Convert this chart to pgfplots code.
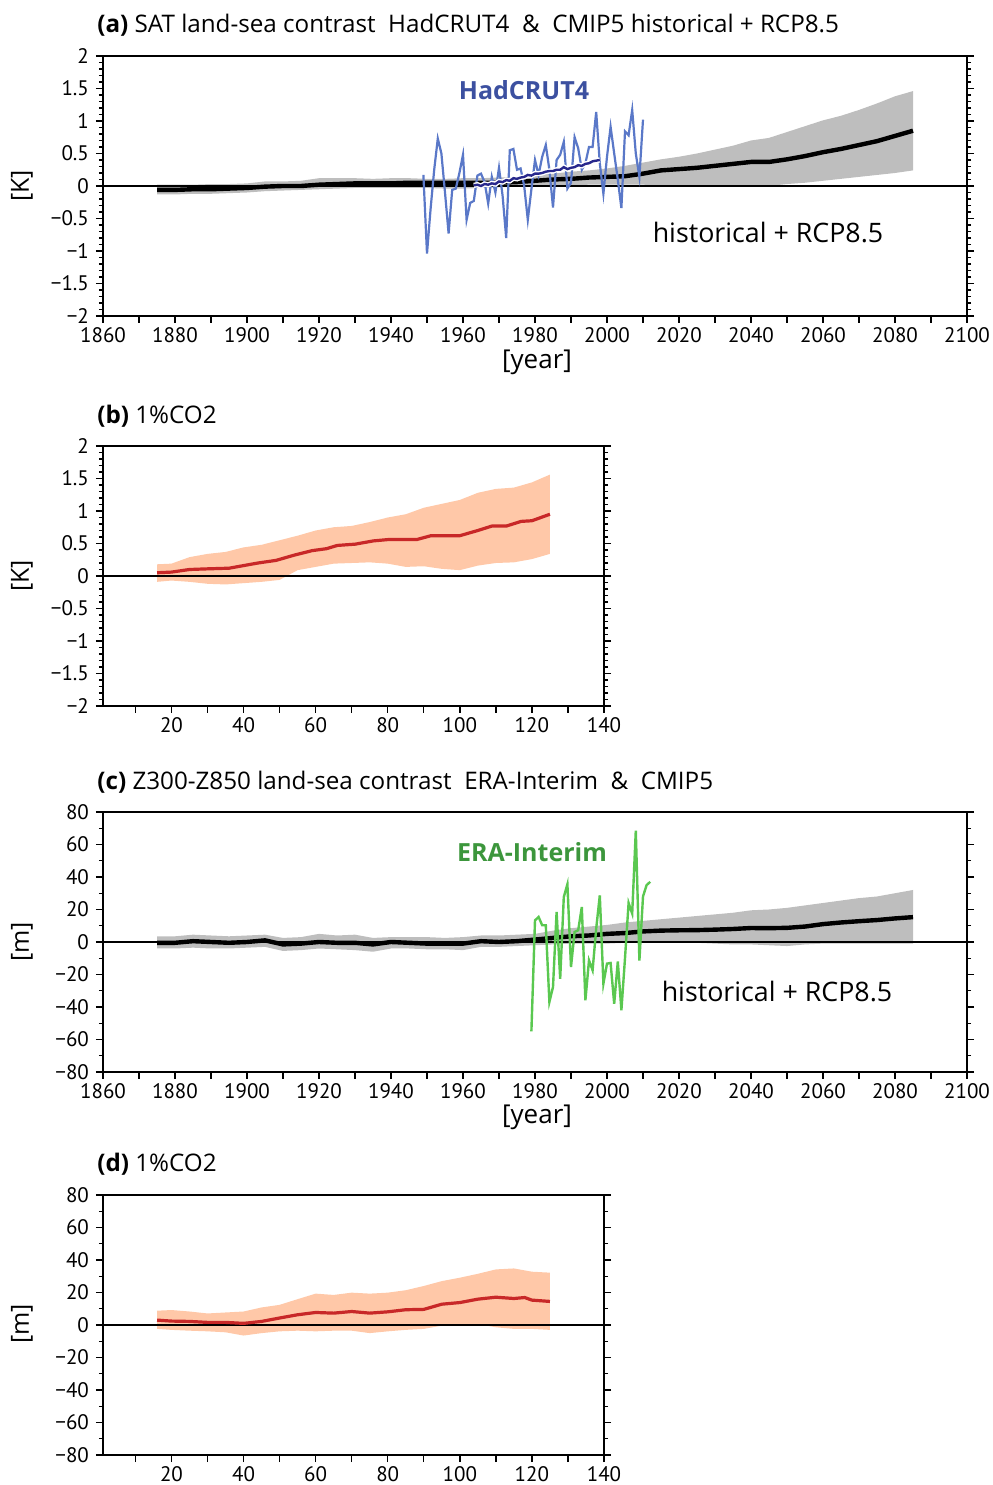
\documentclass[border=0pt]{standalone}
\usepackage{fontspec}
\setmainfont{Open Sans}
\newfontfamily\tickfont{PT Sans}
\usepackage{pgfplots}
\pgfplotsset{compat=1.18}
\definecolor{bandgray}{RGB}{190,190,190}
\definecolor{bandorange}{RGB}{255,200,168}
\definecolor{meanred}{RGB}{200,40,40}
\definecolor{hadblue}{RGB}{90,120,200}
\definecolor{hadlabel}{RGB}{60,80,160}
\definecolor{hadnavy}{RGB}{40,40,140}
\definecolor{eragreen}{RGB}{90,200,80}
\definecolor{eralabel}{RGB}{60,150,60}
\pgfplotsset{
  myaxis/.style={scale only axis, axis line style={line width=1pt},
    tick align=outside, xtick pos=left, ytick pos=both,
    major tick length=3.5pt, minor tick length=2pt,
    every tick/.style={black,line width=0.7pt},
    tick label style={font=\tickfont\fontsize{10.5}{12}\selectfont},
    xticklabel style={yshift=1.2pt},
    axis on top},
  yearaxis/.style={myaxis, width=432pt, height=130pt, xmin=1860, xmax=2100,
    xtick={1860,1870,...,2100},
    xticklabels={1860,,1880,,1900,,1920,,1940,,1960,,1980,,2000,,2020,,2040,,2060,,2080,,2100}},
  co2axis/.style={myaxis, width=250.5pt, height=130pt, xmin=1, xmax=140,
    xtick={10,20,...,140},
    xticklabels={,20,,40,,60,,80,,100,,120,,140}},
  Kaxis/.style={ymin=-2, ymax=2, ytick={-2,-1.5,...,2}, minor y tick num=4,
    yticklabels={−2,−1.5,−1,−0.5,0,0.5,1,1.5,2}},
  maxis/.style={ymin=-80, ymax=80, ytick={-80,-60,...,80}, minor y tick num=1,
    yticklabels={−80,−60,−40,−20,0,20,40,60,80}},
}
\begin{document}
\begin{tikzpicture}
\useasboundingbox (0,0) rectangle (496pt,742.5pt);
% ---------------- (a)
\begin{axis}[yearaxis, Kaxis, at={(51.5pt,584.5pt)}, anchor=south west]
\addplot[fill=bandgray, draw=none] coordinates {
(1875,0.02)(1880,0.02)(1885,0.02)(1890,0.03)(1895,0.03)(1900,0.04)(1905,0.07)(1910,0.07)(1915,0.08)(1920,0.12)(1925,0.12)(1930,0.12)(1935,0.11)(1940,0.12)(1945,0.12)(1950,0.11)(1955,0.11)(1960,0.12)(1965,0.12)(1970,0.13)(1975,0.14)(1980,0.17)(1985,0.19)(1990,0.22)(1995,0.24)(2000,0.27)(2005,0.31)(2010,0.36)(2015,0.41)(2020,0.45)(2025,0.5)(2030,0.56)(2035,0.62)(2040,0.7)(2045,0.74)(2050,0.83)(2055,0.92)(2060,1.01)(2065,1.08)(2070,1.17)(2075,1.27)(2080,1.38)(2085,1.46)
(2085,0.24)(2080,0.2)(2075,0.17)(2070,0.14)(2065,0.11)(2060,0.08)(2055,0.05)(2050,0.03)(2045,0.0)(2040,-0.01)(2035,-0.01)(2030,-0.01)(2025,-0.01)(2020,0.0)(2015,0.01)(2010,0.02)(2005,0.02)(2000,0.02)(1995,0.02)(1990,0.01)(1985,0.01)(1980,0.0)(1975,-0.01)(1970,-0.02)(1965,-0.03)(1960,-0.04)(1955,-0.04)(1950,-0.03)(1945,-0.03)(1940,-0.03)(1935,-0.03)(1930,-0.03)(1925,-0.04)(1920,-0.05)(1915,-0.06)(1910,-0.07)(1905,-0.08)(1900,-0.1)(1895,-0.11)(1890,-0.12)(1885,-0.12)(1880,-0.13)(1875,-0.13)
} -- cycle;
\addplot[black, line width=0.6pt] coordinates {(1860,0)(2100,0)};
\addplot[black, line width=2.2pt] coordinates {
(1875,-0.06)(1880,-0.06)(1885,-0.05)(1890,-0.05)(1895,-0.04)(1900,-0.03)(1905,-0.01)(1910,0.0)(1915,0.0)(1920,0.02)(1925,0.03)(1930,0.04)(1935,0.04)(1940,0.04)(1945,0.05)(1950,0.05)(1955,0.05)(1960,0.05)(1965,0.05)(1970,0.05)(1975,0.06)(1980,0.08)(1985,0.1)(1990,0.11)(1995,0.13)(2000,0.14)(2005,0.15)(2010,0.19)(2015,0.24)(2020,0.26)(2025,0.28)(2030,0.31)(2035,0.34)(2040,0.37)(2045,0.37)(2050,0.41)(2055,0.46)(2060,0.52)(2065,0.57)(2070,0.63)(2075,0.69)(2080,0.77)(2085,0.85)};
\addplot[hadblue, line width=1.1pt] coordinates {
(1949,0.17)(1950,-1.04)(1951,-0.35)(1952,0.25)(1953,0.73)(1954,0.50)(1955,-0.10)(1956,-0.73)(1957,-0.06)(1958,-0.04)(1959,0.20)(1960,0.48)(1961,-0.52)(1962,-0.26)(1963,-0.23)(1964,0.16)(1965,0.19)(1966,0.06)(1967,-0.27)(1968,0.14)(1969,-0.10)(1970,0.28)(1971,-0.15)(1972,-0.80)(1973,0.55)(1974,0.57)(1975,0.25)(1976,0.27)(1977,0.00)(1978,-0.52)(1979,-0.05)(1980,0.40)(1981,0.17)(1982,0.45)(1983,0.63)(1984,0.25)(1985,-0.33)(1986,0.40)(1987,0.48)(1988,0.68)(1989,-0.04)(1990,0.05)(1991,0.75)(1992,0.58)(1993,0.25)(1994,0.35)(1995,0.60)(1996,0.60)(1997,1.14)(1998,0.35)(1999,-0.12)(2000,0.45)(2001,0.91)(2002,0.50)(2003,0.10)(2004,-0.34)(2005,0.84)(2006,0.78)(2007,1.17)(2008,0.50)(2009,0.14)(2010,1.02)};
\addplot[white, line width=2.6pt] coordinates {
(1963,0.01)(1964,0.02)(1965,0.0)(1966,0.03)(1967,0.02)(1968,0.04)(1969,0.03)(1970,0.07)(1971,0.06)(1972,0.09)(1973,0.08)(1974,0.12)(1975,0.11)(1976,0.13)(1977,0.14)(1978,0.17)(1979,0.16)(1980,0.19)(1981,0.19)(1982,0.2)(1983,0.22)(1984,0.23)(1985,0.23)(1986,0.25)(1987,0.25)(1988,0.29)(1989,0.26)(1990,0.28)(1991,0.29)(1992,0.32)(1993,0.31)(1994,0.34)(1995,0.35)(1996,0.38)(1997,0.39)(1998,0.40)};
\addplot[hadnavy, line width=1.2pt] coordinates {
(1963,0.01)(1964,0.02)(1965,0.0)(1966,0.03)(1967,0.02)(1968,0.04)(1969,0.03)(1970,0.07)(1971,0.06)(1972,0.09)(1973,0.08)(1974,0.12)(1975,0.11)(1976,0.13)(1977,0.14)(1978,0.17)(1979,0.16)(1980,0.19)(1981,0.19)(1982,0.2)(1983,0.22)(1984,0.23)(1985,0.23)(1986,0.25)(1987,0.25)(1988,0.29)(1989,0.26)(1990,0.28)(1991,0.29)(1992,0.32)(1993,0.31)(1994,0.34)(1995,0.35)(1996,0.38)(1997,0.39)(1998,0.40)};
\end{axis}
% ---------------- (b)
\begin{axis}[co2axis, Kaxis, at={(51.5pt,389.5pt)}, anchor=south west]
\addplot[fill=bandorange, draw=none] coordinates {
(16,0.18)(20,0.19)(25,0.29)(30,0.34)(35,0.37)(40,0.44)(45,0.48)(50,0.55)(55,0.62)(60,0.7)(65,0.75)(70,0.77)(75,0.83)(80,0.9)(85,0.95)(90,1.05)(95,1.11)(100,1.17)(105,1.28)(110,1.34)(115,1.36)(120,1.44)(125,1.56)
(125,0.34)(120,0.26)(115,0.21)(110,0.2)(105,0.16)(100,0.09)(95,0.11)(90,0.15)(85,0.14)(80,0.19)(75,0.21)(70,0.2)(65,0.19)(60,0.14)(55,0.09)(50,-0.06)(45,-0.09)(40,-0.11)(35,-0.13)(30,-0.12)(25,-0.09)(20,-0.07)(16,-0.09)
} -- cycle;
\addplot[black, line width=0.6pt] coordinates {(1,0)(140,0)};
\addplot[meanred, line width=1.6pt] coordinates {
(16,0.05)(20,0.06)(25,0.1)(30,0.11)(36,0.12)(40,0.16)(44,0.2)(49,0.24)(54,0.32)(59,0.39)(63,0.42)(66,0.47)(71,0.49)(76,0.54)(80,0.56)(88,0.56)(92,0.62)(100,0.62)(105,0.7)(109,0.77)(113,0.77)(117,0.84)(120,0.85)(125,0.95)};
\end{axis}
% ---------------- (c)
\begin{axis}[yearaxis, maxis, at={(51.5pt,206.5pt)}, anchor=south west]
\addplot[fill=bandgray, draw=none] coordinates {
(1875,3.5)(1880,3.5)(1885,4.5)(1890,4)(1895,3.5)(1900,4)(1905,4.5)(1910,2.5)(1915,3)(1920,5)(1925,4)(1930,4.5)(1935,2.5)(1940,3)(1945,3)(1950,3)(1955,2.5)(1960,3)(1965,4)(1970,4)(1975,4.5)(1980,5)(1985,7)(1990,8.5)(1995,9.5)(2000,10.5)(2005,12)(2010,13)(2015,14)(2020,15)(2025,16)(2030,17)(2035,18)(2040,19.5)(2045,20)(2050,21)(2055,22.5)(2060,24)(2065,25.5)(2070,27)(2075,28)(2080,30)(2085,32)
(2085,-1)(2080,-1)(2075,-1)(2070,-1)(2065,-1)(2060,-1)(2055,-1.5)(2050,-2.5)(2045,-2)(2040,-1.5)(2035,-1.5)(2030,-1)(2025,-0.5)(2020,0)(2015,0)(2010,0)(2005,-0.5)(2000,-1)(1995,-1)(1990,-1)(1985,-1.5)(1980,-2)(1975,-2.5)(1970,-3)(1965,-3)(1960,-5)(1955,-4.5)(1950,-4.5)(1945,-4)(1940,-4)(1935,-6)(1930,-5)(1925,-4.5)(1920,-4)(1915,-5)(1910,-5.5)(1905,-3)(1900,-3.5)(1895,-4)(1890,-4)(1885,-3.5)(1880,-4)(1875,-4)
} -- cycle;
\addplot[black, line width=0.6pt] coordinates {(1860,0)(2100,0)};
\addplot[black, line width=2.2pt] coordinates {
(1875,-0.5)(1880,-0.5)(1885,0.5)(1890,0)(1895,-0.5)(1900,0)(1905,1)(1910,-1.5)(1915,-1)(1920,0)(1925,-0.5)(1930,-0.5)(1935,-1.5)(1940,0)(1945,-0.5)(1950,-1)(1955,-1)(1960,-1)(1965,0.5)(1970,0)(1975,0.5)(1980,1.5)(1985,2.5)(1990,3.5)(1995,4)(2000,5)(2005,5.5)(2010,6.5)(2015,7)(2020,7.2)(2025,7.3)(2030,7.6)(2035,8)(2040,8.6)(2045,8.5)(2050,8.7)(2055,9.5)(2060,11)(2065,12)(2070,12.8)(2075,13.5)(2080,14.5)(2085,15.3)};
\addplot[eragreen, line width=1.2pt] coordinates {
(1979,-55)(1980,13.3)(1981,15.4)(1982,10.3)(1983,10.3)(1984,-36.9)(1985,-27.7)(1986,18.5)(1987,-22.6)(1988,27.7)(1989,35.5)(1990,-15.4)(1991,6.2)(1992,7.2)(1993,21.5)(1994,-35.9)(1995,-11.3)(1996,-17.4)(1997,8.2)(1998,28.7)(1999,-25.6)(2000,-13.3)(2001,-12.9)(2002,-38)(2003,-12)(2004,-42)(2005,-10)(2006,24)(2007,17.5)(2008,68.5)(2009,-11.5)(2010,28)(2011,35)(2012,37)};
\end{axis}
% ---------------- (d)
\begin{axis}[co2axis, maxis, at={(51.5pt,15pt)}, anchor=south west]
\addplot[fill=bandorange, draw=none] coordinates {
(16,8.8)(20,9.2)(25,8.3)(30,7.1)(35,7.7)(40,8.3)(45,10.8)(50,12.4)(55,15.9)(60,19.3)(65,18.5)(70,19.9)(75,19.3)(80,19.9)(85,21.4)(90,24)(95,27)(100,29.1)(105,31.5)(110,34.2)(115,34.8)(120,32.8)(125,32.2)
(125,-3)(120,-2.4)(115,-2.4)(110,-1.4)(105,0.6)(100,0.2)(95,-0.4)(90,-2.4)(85,-3)(80,-3.9)(75,-5)(70,-3.5)(65,-3.5)(60,-3.9)(55,-3.5)(50,-3.9)(45,-5)(40,-6.5)(35,-4.5)(30,-3.9)(25,-3.5)(20,-3)(16,-2.4)
} -- cycle;
\addplot[black, line width=0.6pt] coordinates {(1,0)(140,0)};
\addplot[meanred, line width=1.6pt] coordinates {
(16,3)(20,2.4)(25,2.2)(30,1.6)(35,1.6)(40,1)(45,2.2)(50,4.3)(55,6.3)(60,7.7)(65,7.3)(70,8.3)(75,7.3)(80,8.1)(85,9.4)(90,9.6)(95,12.8)(100,13.8)(105,15.9)(110,17.1)(115,16.3)(118,16.9)(120,15.3)(125,14.5)};
\end{axis}
% ---------------- texts
\tikzset{ttl/.style={anchor=west, inner sep=0pt, font=\fontsize{12.1}{14}\selectfont}}
\node[ttl] at (48.5pt,730pt) {\textbf{(a)}\ SAT land-sea contrast\ \ HadCRUT4\ \ \&\ \ CMIP5 historical + RCP8.5};
\node[ttl] at (48.5pt,534.5pt) {\textbf{(b)}\ 1\%CO2};
\node[ttl] at (48.5pt,351.5pt) {\textbf{(c)}\ Z300-Z850 land-sea contrast\ \ ERA-Interim\ \ \&\ \ CMIP5};
\node[ttl] at (48.5pt,160.5pt) {\textbf{(d)}\ 1\%CO2};
\node[font=\fontsize{13}{15}\selectfont] at (268.5pt,561.5pt) {[year]};
\node[font=\fontsize{13}{15}\selectfont] at (268.5pt,184pt) {[year]};
\node[rotate=90, font=\fontsize{12.5}{14}\selectfont] at (11pt,649.5pt) {[K]};
\node[rotate=90, font=\fontsize{12.5}{14}\selectfont] at (11pt,454.5pt) {[K]};
\node[rotate=90, font=\fontsize{12.5}{14}\selectfont] at (11pt,271.5pt) {[m]};
\node[rotate=90, font=\fontsize{12.5}{14}\selectfont] at (11pt,80.5pt) {[m]};
\node[font=\bfseries\fontsize{12.5}{14}\selectfont, text=hadlabel] at (262pt,697.5pt) {HadCRUT4};
\node[font=\fontsize{13.4}{16}\selectfont] at (384pt,626pt) {historical + RCP8.5};
\node[font=\bfseries\fontsize{12.5}{14}\selectfont, text=eralabel] at (266pt,316.5pt) {ERA-Interim};
\node[font=\fontsize{13.4}{16}\selectfont] at (388.5pt,246.5pt) {historical + RCP8.5};
\end{tikzpicture}
\end{document}
